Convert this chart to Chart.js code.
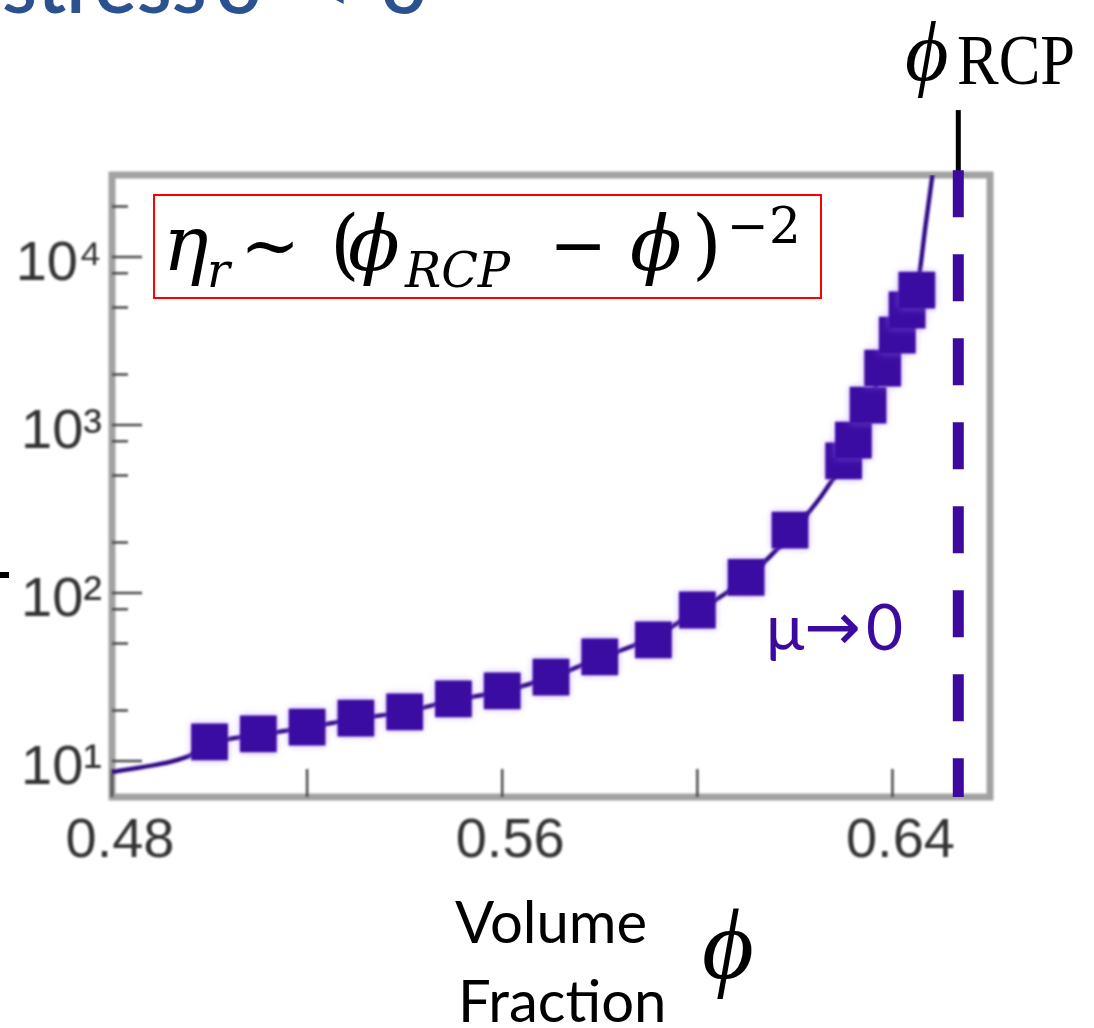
<!DOCTYPE html>
<html>
<head>
<meta charset="utf-8">
<script src="https://cdn.jsdelivr.net/npm/chart.js"></script>
<style>
  body { margin: 0; background: #fff; }
  #wrap { position: relative; width: 1094px; height: 1028px; overflow: hidden; }
  #viscosityChart { position: absolute; left: 0; top: 0; }
  #notes { position: absolute; left: 0; top: 0; pointer-events: none; }
  .serif { font-family: 'DejaVu Serif', serif; }
  .tex { font-family: 'Liberation Serif', 'DejaVu Serif', serif; }
  .sans { font-family: Lato, 'Open Sans', sans-serif; }
</style>
</head>
<body>
<div id="wrap">
  <canvas id="viscosityChart" width="1094" height="1028"></canvas>
  <svg id="notes" width="1094" height="1028">
    <!-- slide heading, mostly cut off at the top -->
    <text class="sans" y="13" font-size="80" font-weight="600" fill="#2c5190"><tspan x="2">stress</tspan><tspan x="216">σ</tspan><tspan x="306">&lt;</tspan><tspan x="381">σ</tspan></text>
    <rect x="0" y="572" width="9" height="6" fill="#000"/>

    <!-- jamming point label -->
    <text class="tex" x="905" y="80" font-size="84" font-style="italic">ϕ</text>
    <text class="tex" x="957" y="84" font-size="72" textLength="118" lengthAdjust="spacingAndGlyphs">RCP</text>

    <!-- scaling law -->
    <rect x="154" y="195" width="667" height="103" fill="none" stroke="#ff0000" stroke-width="2"/>
    <g class="serif" fill="#000">
      <text x="163" y="270" font-size="76" font-style="italic">η</text>
      <text x="207" y="287" font-size="48" font-style="italic">r</text>
      <text x="240" y="270" font-size="72">~</text>
      <text x="330" y="270" font-size="76">(</text>
      <text x="348" y="270" font-size="76" font-style="italic">ϕ</text>
      <text x="405" y="287" font-size="48" font-style="italic">RCP</text>
      <text x="549" y="270" font-size="72" textLength="58" lengthAdjust="spacingAndGlyphs">−</text>
      <text x="630" y="270" font-size="76" font-style="italic">ϕ</text>
      <text x="692" y="270" font-size="76">)</text>
      <text x="727" y="243" font-size="50">−2</text>
    </g>

    <text class="sans" y="650" font-size="64" fill="#3c0a9f"><tspan x="766">μ</tspan><tspan x="804" font-family="'DejaVu Sans', sans-serif" font-size="68">→</tspan><tspan x="866">0</tspan></text>

    <text class="sans" x="455" y="943" font-size="58">Volume</text>
    <text class="sans" x="458" y="1022" font-size="58">Fraction</text>
    <text class="tex" x="702" y="978" font-size="100" font-style="italic">ϕ</text>
  </svg>
</div>

<script>
// measured relative viscosity against volume fraction
const phi = [0.500, 0.510, 0.520, 0.530, 0.540, 0.550, 0.560, 0.570, 0.580, 0.591,
             0.600, 0.610, 0.619, 0.630, 0.632, 0.635, 0.638, 0.641, 0.643, 0.645];
const eta = [13.0, 14.5, 15.9, 18.0, 19.6, 23.4, 26.1, 31.6, 41.6, 52.5,
             79.2, 124, 237, 611, 814, 1315, 2184, 3434, 4839, 6364];

// fitted divergence curve
const fitPhi = [0.480, 0.4955, 0.500, 0.510, 0.520, 0.530, 0.540, 0.550, 0.560, 0.570,
                0.580, 0.590, 0.600, 0.610, 0.620, 0.630, 0.635, 0.640, 0.645, 0.6468, 0.6482];
const fitEta = [8.6, 10.6, 12.6, 14.3, 15.8, 17.8, 19.6, 23.0, 26.0, 31.5,
                41.0, 53.0, 78.0, 122, 240, 610, 1300, 3000, 6300, 15500, 30800];

// random close packing
const phiRcp = 0.6535;
const rcpDashEta = [32900, 6.1];
const rcpMarkEta = [32100, 75000];

// axes
const xRange = [0.48, 0.66];
const yRange = [6.1, 30800];
const xTickValues = [0.48, 0.52, 0.56, 0.60, 0.64];
const xTickLabels = ['0.48', '', '0.56', '', '0.64'];
const yTickValues = [10, 100, 1000, 10000];
const yTickLabels = ['10¹', '10²', '10³', '10⁴'];
const yMinorTicks = [20, 50, 80, 200, 500, 800, 2000, 5000, 8000, 20000];

const pts = (xs, ys) => xs.map((x, i) => ({ x: x, y: ys[i] }));

// frame, inward ticks and the soft look of the scanned plot
const plotLook = {
  id: 'plotLook',
  beforeDraw(chart) {
    chart.ctx.filter = 'blur(0.8px)';
  },
  beforeDatasetsDraw(chart) {
    const { ctx, chartArea: a, scales } = chart;
    ctx.save();
    ctx.strokeStyle = '#a2a2a2';
    ctx.lineWidth = 7;
    ctx.strokeRect(a.left, a.top, a.right - a.left, a.bottom - a.top);
    ctx.strokeStyle = '#4a4a4a';
    ctx.lineWidth = 2.5;
    ctx.beginPath();
    xTickValues.forEach(v => {
      const px = scales.x.getPixelForValue(v);
      ctx.moveTo(px, a.bottom);
      ctx.lineTo(px, a.bottom - 28);
    });
    yTickValues.forEach(v => {
      const py = scales.y.getPixelForValue(v);
      ctx.moveTo(a.left, py);
      ctx.lineTo(a.left + 30, py);
    });
    yMinorTicks.forEach(v => {
      const py = scales.y.getPixelForValue(v);
      ctx.moveTo(a.left, py);
      ctx.lineTo(a.left + 16, py);
    });
    ctx.stroke();
    ctx.restore();
  },
  beforeDatasetDraw(chart, args) {
    const ctx = chart.ctx;
    if (args.index <= 1) {
      ctx.filter = 'blur(0.8px)';
      ctx.shadowColor = 'rgba(170, 120, 255, 0.55)';
      ctx.shadowBlur = args.index === 0 ? 7 : 3;
    } else {
      ctx.filter = 'none';
      ctx.shadowBlur = 0;
      ctx.shadowColor = 'rgba(0,0,0,0)';
    }
  },
  afterDatasetDraw(chart) {
    const ctx = chart.ctx;
    ctx.filter = 'none';
    ctx.shadowBlur = 0;
    ctx.shadowColor = 'rgba(0,0,0,0)';
  }
};

const ctx = document.getElementById('viscosityChart').getContext('2d');

new Chart(ctx, {
  type: 'scatter',
  data: {
    datasets: [
      {
        label: 'measured',
        data: pts(phi, eta),
        pointStyle: 'rect',
        pointRadius: 26,
        backgroundColor: '#3b0ca2',
        borderColor: '#3b0ca2',
        borderWidth: 0,
        showLine: false
      },
      {
        label: 'fit',
        data: pts(fitPhi, fitEta),
        showLine: true,
        pointRadius: 0,
        borderColor: '#2c0a7c',
        borderWidth: 4,
        cubicInterpolationMode: 'monotone'
      },
      {
        label: 'RCP',
        data: pts([phiRcp, phiRcp], rcpDashEta),
        showLine: true,
        pointRadius: 0,
        borderColor: '#3e0a9e',
        borderWidth: 11,
        borderDash: [47, 37],
        borderCapStyle: 'butt',
        clip: false
      },
      {
        label: 'RCP mark',
        data: pts([phiRcp, phiRcp], rcpMarkEta),
        showLine: true,
        pointRadius: 0,
        borderColor: '#000',
        borderWidth: 5,
        clip: false
      }
    ]
  },
  options: {
    responsive: false,
    animation: false,
    devicePixelRatio: 1,
    layout: { padding: { top: 175, right: 104, bottom: 0, left: 0 } },
    plugins: { legend: { display: false }, tooltip: { enabled: false } },
    scales: {
      x: {
        type: 'linear',
        min: xRange[0],
        max: xRange[1],
        grid: { display: false, drawTicks: false },
        border: { display: false },
        afterBuildTicks: s => { s.ticks = xTickValues.map(v => ({ value: v })); },
        afterFit: s => { s.height = 231; },
        ticks: {
          autoSkip: false,
          maxRotation: 0,
          padding: 11,
          labelOffset: 8,
          color: '#333',
          font: { family: "'Liberation Sans', Arial, sans-serif", size: 56 },
          callback: (v, i) => xTickLabels[i]
        }
      },
      y: {
        type: 'logarithmic',
        min: yRange[0],
        max: yRange[1],
        grid: { display: false, drawTicks: false },
        border: { display: false },
        afterBuildTicks: s => { s.ticks = yTickValues.map(v => ({ value: v })); },
        afterFit: s => { s.width = 112; },
        ticks: {
          autoSkip: false,
          padding: 10,
          labelOffset: 8,
          color: '#333',
          font: { family: "'Liberation Sans', Arial, sans-serif", size: 56 },
          callback: (v, i) => yTickLabels[i]
        }
      }
    }
  },
  plugins: [plotLook]
});
</script>
</body>
</html>
